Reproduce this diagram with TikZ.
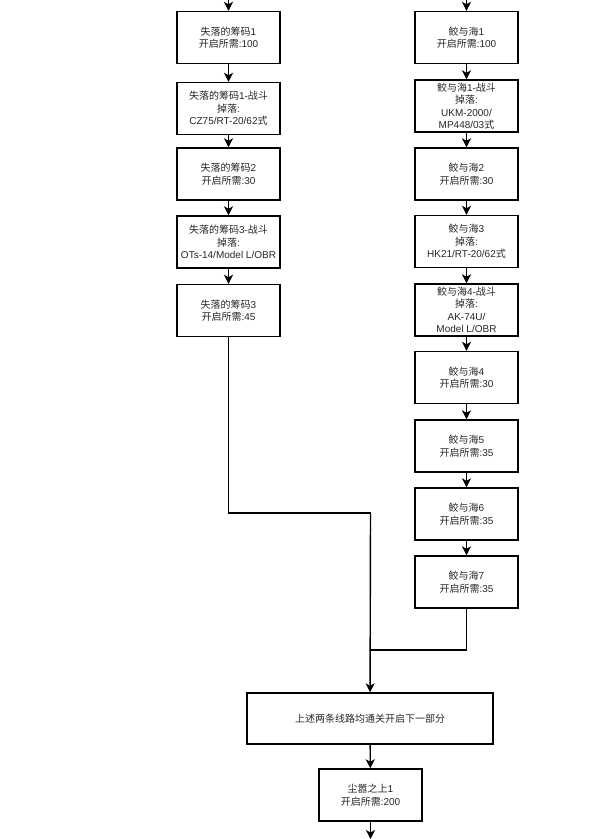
\documentclass[tikz,border=0pt]{standalone}
\usepackage{fontspec}
\setmainfont{Liberation Sans}
\newfontfamily\cjkfont{Noto Sans CJK SC}
\newcommand{\zh}[1]{{\cjkfont #1}}
\usetikzlibrary{arrows.meta}

\begin{document}
\begin{tikzpicture}[x=1pt,y=-1pt,line width=1.4pt,
  every node/.style={font=\fontsize{10}{12.5}\selectfont,text=black!85},
  box/.style={draw=black,align=center,minimum width=103pt,minimum height=52pt,inner sep=1pt},
  >={Stealth[length=9pt,width=9pt,inset=2.5pt]}]
\useasboundingbox (0,0) rectangle (603,839);
% left branch
\coordinate (ltop) at (228.5,0);
\node[box] (l1) at (228.5,37.5) {\zh{失落的筹码}1\\\zh{开启所需}:100};
\node[box] (l2) at (228.5,108.5) {\zh{失落的筹码}1-\zh{战斗}\\\zh{掉落}:\\CZ75/RT-20/62\zh{式}};
\node[box] (l3) at (228.5,174) {\zh{失落的筹码}2\\\zh{开启所需}:30};
\node[box] (l4) at (228.5,242) {\zh{失落的筹码}3-\zh{战斗}\\\zh{掉落}:\\OTs-14/Model L/OBR};
\node[box] (l5) at (228.5,310.5) {\zh{失落的筹码}3\\\zh{开启所需}:45};
% right branch
\coordinate (rtop) at (466.5,0);
\node[box] (r1) at (466.5,37.5) {\zh{鲛与海}1\\\zh{开启所需}:100};
\node[box] (r2) at (466.5,106) {\zh{鲛与海}1-\zh{战斗}\\\zh{掉落}:\\UKM-2000/\\MP448/03\zh{式}};
\node[box] (r3) at (466.5,174) {\zh{鲛与海}2\\\zh{开启所需}:30};
\node[box] (r4) at (466.5,241.5) {\zh{鲛与海}3\\\zh{掉落}:\\HK21/RT-20/62\zh{式}};
\node[box] (r5) at (466.5,310) {\zh{鲛与海}4-\zh{战斗}\\\zh{掉落}:\\AK-74U/\\Model L/OBR};
\node[box] (r6) at (466.5,377.5) {\zh{鲛与海}4\\\zh{开启所需}:30};
\node[box] (r7) at (466.5,446) {\zh{鲛与海}5\\\zh{开启所需}:35};
\node[box] (r8) at (466.5,514) {\zh{鲛与海}6\\\zh{开启所需}:35};
\node[box] (r9) at (466.5,582) {\zh{鲛与海}7\\\zh{开启所需}:35};
% merge
\coordinate (jl) at (370.5,513);
\coordinate (jr) at (370.5,650);
\node[box,minimum width=246pt,minimum height=51pt] (all) at (370,718.5) {\zh{上述两条线路均通关开启下一部分}};
\node[box] (d1) at (370.5,795) {\zh{尘嚣之上}1\\\zh{开启所需}:200};
\coordinate (dout) at (370.5,839);

\draw[->] (ltop) -- (l1);
\draw[->] (l1) -- (l2);
\draw[->] (l2) -- (l3);
\draw[->] (l3) -- (l4);
\draw[->] (l4) -- (l5);
\draw[->] (rtop) -- (r1);
\draw[->] (r1) -- (r2);
\draw[->] (r2) -- (r3);
\draw[->] (r3) -- (r4);
\draw[->] (r4) -- (r5);
\draw[->] (r5) -- (r6);
\draw[->] (r6) -- (r7);
\draw[->] (r7) -- (r8);
\draw[->] (r8) -- (r9);
\draw (l5) |- (jl);
\draw (r9) |- (jr);
\draw[->] (jl) -- (all);
\draw[->] (all) -- (d1);
\draw[->] (d1) -- (dout);
\end{tikzpicture}
\end{document}
